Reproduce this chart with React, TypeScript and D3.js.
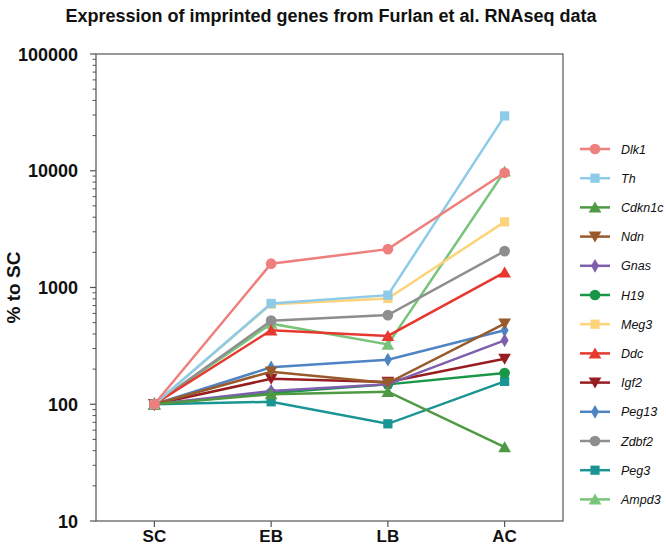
import React from 'react';
import * as d3 from 'd3';

const stages = ['SC', 'EB', 'LB', 'AC'];
const genes = ['Dlk1', 'Th', 'Cdkn1c', 'Ndn', 'Gnas', 'H19', 'Meg3', 'Ddc', 'Igf2', 'Peg13', 'Zdbf2', 'Peg3', 'Ampd3'];
const dlk1 = [100, 1600, 2130, 9600];
const th = [100, 730, 860, 29500];
const cdkn1c = [100, 122, 128, 43];
const ndn = [100, 190, 152, 490];
const gnas = [100, 130, 148, 353];
const h19 = [100, 125, 148, 185];
const meg3 = [100, 720, 805, 3650];
const ddc = [100, 430, 385, 1350];
const igf2 = [100, 165, 155, 245];
const peg13 = [100, 207, 241, 430];
const zdbf2 = [100, 520, 580, 2050];
const peg3 = [100, 105, 68, 157];
const ampd3 = [100, 490, 325, 9900];
const seriesValues = [dlk1, th, cdkn1c, ndn, gnas, h19, meg3, ddc, igf2, peg13, zdbf2, peg3, ampd3];
const colors = ['#ef7f7c', '#8ecbe8', '#4e9a43', '#995a2b', '#7e5fad', '#1a9648', '#fdd37c', '#e6382f', '#981d20', '#4f83c3', '#8e8e8e', '#1b9494', '#79c47b'];
const shapes = ['circle', 'square', 'up', 'down', 'diamond', 'circle', 'square', 'up', 'down', 'diamond', 'circle', 'square', 'up'];
const yTicks = [10, 100, 1000, 10000, 100000];

const W = 666, H = 545;
const L = 96, R = 563, T = 54, B = 521;

function Marker({ shape, x, y, color }: { shape: string; x: number; y: number; color: string }) {
  const symMap: any = {
    circle: d3.symbolCircle,
    square: d3.symbolSquare,
    up: d3.symbolTriangle,
    down: d3.symbolTriangle,
    diamond: d3.symbolDiamond,
  };
  const sizeMap: any = { circle: 90, square: 85, up: 70, down: 70, diamond: 55 };
  const p = d3.symbol().type(symMap[shape]).size(sizeMap[shape])() as string;
  const rot = shape === 'down' ? ' rotate(180)' : '';
  const sy = shape === 'up' ? 1.5 : shape === 'down' ? -1.5 : 0;
  return <path d={p} transform={`translate(${x},${y + sy})${rot}`} fill={color} />;
}

export default function App() {
  const x = d3.scaleLinear().domain([-0.5, 3.5]).range([L, R]);
  const y = d3.scaleLog().domain([10, 100000]).range([B, T]);
  const line = d3.line<number>().x((_, i) => x(i)).y((d) => y(d));
  const minor: number[] = [];
  for (let e = 1; e < 5; e++) for (let k = 2; k <= 9; k++) minor.push(k * Math.pow(10, e));
  const axisColor = '#555';
  const order = genes.map((_, i) => i).reverse();
  const legY0 = 149, legStep = 29.2;
  return (
    <svg width={W} height={H} style={{ position: 'absolute', left: 0, top: 0, background: '#fff' }} fontFamily="Liberation Sans, Arial, sans-serif">
      <text x={331} y={22} textAnchor="middle" fontWeight="bold" fontSize={18} fill="#111">
        Expression of imprinted genes from Furlan et al. RNAseq data
      </text>
      <rect x={L} y={T} width={R - L} height={B - T} fill="none" stroke={axisColor} strokeWidth={1.2} />
      {yTicks.map((t) => (
        <g key={t}>
          <line x1={L - 6} x2={L} y1={y(t)} y2={y(t)} stroke={axisColor} strokeWidth={1.2} />
          <text x={L - 18} y={y(t) + 6.5} textAnchor="end" fontWeight="bold" fontSize={18} fill="#111">{t}</text>
        </g>
      ))}
      {minor.map((t) => (
        <line key={'m' + t} x1={L - 3.5} x2={L} y1={y(t)} y2={y(t)} stroke={axisColor} strokeWidth={1} />
      ))}
      {stages.map((s, i) => (
        <g key={s}>
          <line x1={x(i)} x2={x(i)} y1={B} y2={B + 6} stroke={axisColor} strokeWidth={1.2} />
          <text x={x(i)} y={B + 21} textAnchor="middle" fontWeight="bold" fontSize={17} fill="#111">{s}</text>
        </g>
      ))}
      <text transform={`translate(20,${(T + B) / 2}) rotate(-90)`} textAnchor="middle" fontWeight="bold" fontSize={19} fill="#111">% to SC</text>
      {order.map((gi) => (
        <g key={genes[gi]}>
          <path d={line(seriesValues[gi]) as string} fill="none" stroke={colors[gi]} strokeWidth={2.5} />
          {seriesValues[gi].map((v, i) => (
            <Marker key={i} shape={shapes[gi]} x={x(i)} y={y(v)} color={colors[gi]} />
          ))}
        </g>
      ))}
      {genes.map((g, gi) => {
        const ly = legY0 + gi * legStep;
        return (
          <g key={'leg' + g}>
            <line x1={580} x2={610} y1={ly} y2={ly} stroke={colors[gi]} strokeWidth={2.5} />
            <Marker shape={shapes[gi]} x={595} y={ly} color={colors[gi]} />
            <text x={621} y={ly + 4.5} fontStyle="italic" fontSize={12.5} fill="#111">{g}</text>
          </g>
        );
      })}
    </svg>
  );
}
